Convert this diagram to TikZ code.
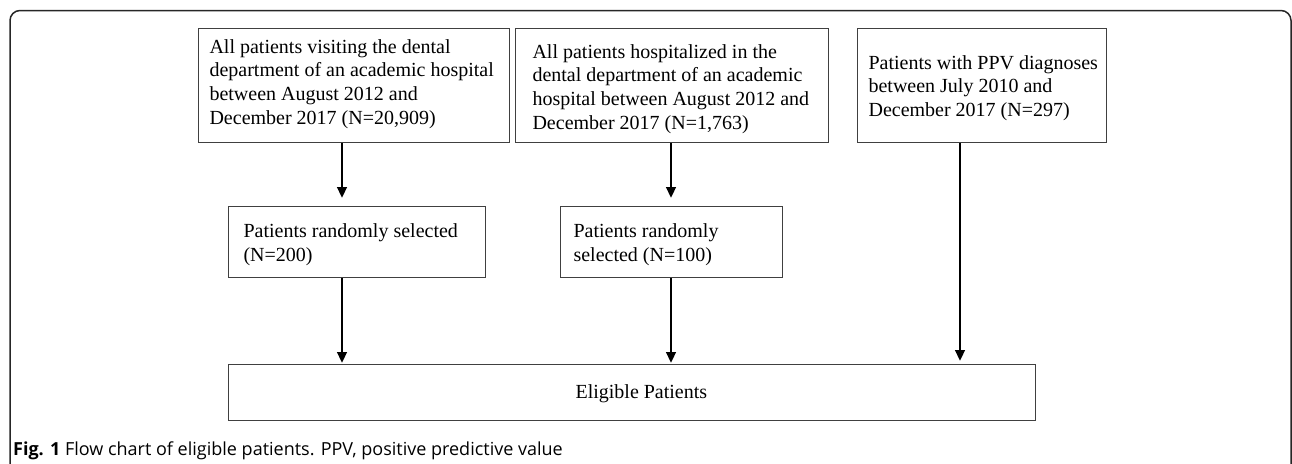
\documentclass[tikz,border=0pt]{standalone}
\usepackage{fontspec}
\setmainfont{Liberation Serif}
\newfontfamily\capfont{Open Sans}
\usetikzlibrary{arrows.meta}
\newcommand{\btext}[5]{\parbox[c][#2][t]{#1}{\leftskip=#3\relax\rightskip=0pt plus 1fil\relax\parfillskip=0pt plus 1fil\relax\noindent\rule{0pt}{#4}#5}}
\tikzset{
  flowbox/.style={draw=black!75, line width=1.1pt, inner sep=0pt, anchor=north west, font=\fontsize{20}{23.7}\selectfont},
  arr/.style={draw=black, line width=2.6pt, -{Triangle[length=11pt,width=9.5pt]}},
  frame/.style={draw=black!85, line width=1.5pt, rounded corners=10pt},
}
\begin{document}
\begin{tikzpicture}[x=1pt,y=-1pt]
\useasboundingbox (0,0) rectangle (1292,463);
\clip (0,0) rectangle (1292,463);
\draw[frame] (10,500) -- (10,10.5) -- (1291,10.5) -- (1291,500);

\node[flowbox] (b1) at (198,27.5) {\btext{311pt}{114.5pt}{11pt}{25pt}{All patients visiting the dental\\department of an academic hospital\\between August 2012 and\\December 2017 (N=20,909)}};
\node[flowbox] (b2) at (515,27.5) {\btext{313pt}{114.5pt}{17pt}{30pt}{All patients hospitalized in the\\dental department of an academic\\hospital between August 2012 and\\December 2017 (N=1,763)}};
\node[flowbox] (b3) at (857,27.5) {\btext{249pt}{114.5pt}{11pt}{41pt}{Patients with PPV diagnoses\\between July 2010 and\\December 2017 (N=297)}};
\node[flowbox] (b4) at (228,206) {\btext{257pt}{71pt}{15pt}{31pt}{Patients randomly selected\\(N=200)}};
\node[flowbox] (b5) at (560,206) {\btext{222pt}{71pt}{13pt}{31pt}{Patients randomly\\selected (N=100)}};
\node[flowbox] (e) at (228,364) {\btext{807pt}{56pt}{347pt}{34pt}{Eligible Patients}};

\coordinate (x1) at (342,0);
\coordinate (x2) at (671,0);
\coordinate (x3) at (960,0);
\draw[arr, shorten >=8pt] (b1.south -| x1) -- (b4.north -| x1);
\draw[arr, shorten >=8pt] (b2.south -| x2) -- (b5.north -| x2);
\draw[arr, shorten >=1pt] (b4.south -| x1) -- (e.north -| x1);
\draw[arr, shorten >=1pt] (b5.south -| x2) -- (e.north -| x2);
\draw[arr, shorten >=3pt] (b3.south -| x3) -- (e.north -| x3);

\node[anchor=base west, inner sep=0pt, font=\capfont\fontsize{18}{21}\selectfont] (cap) at (13,455) {\textbf{Fig. 1} Flow chart of eligible patients. PPV, positive predictive value};
\end{tikzpicture}
\end{document}
